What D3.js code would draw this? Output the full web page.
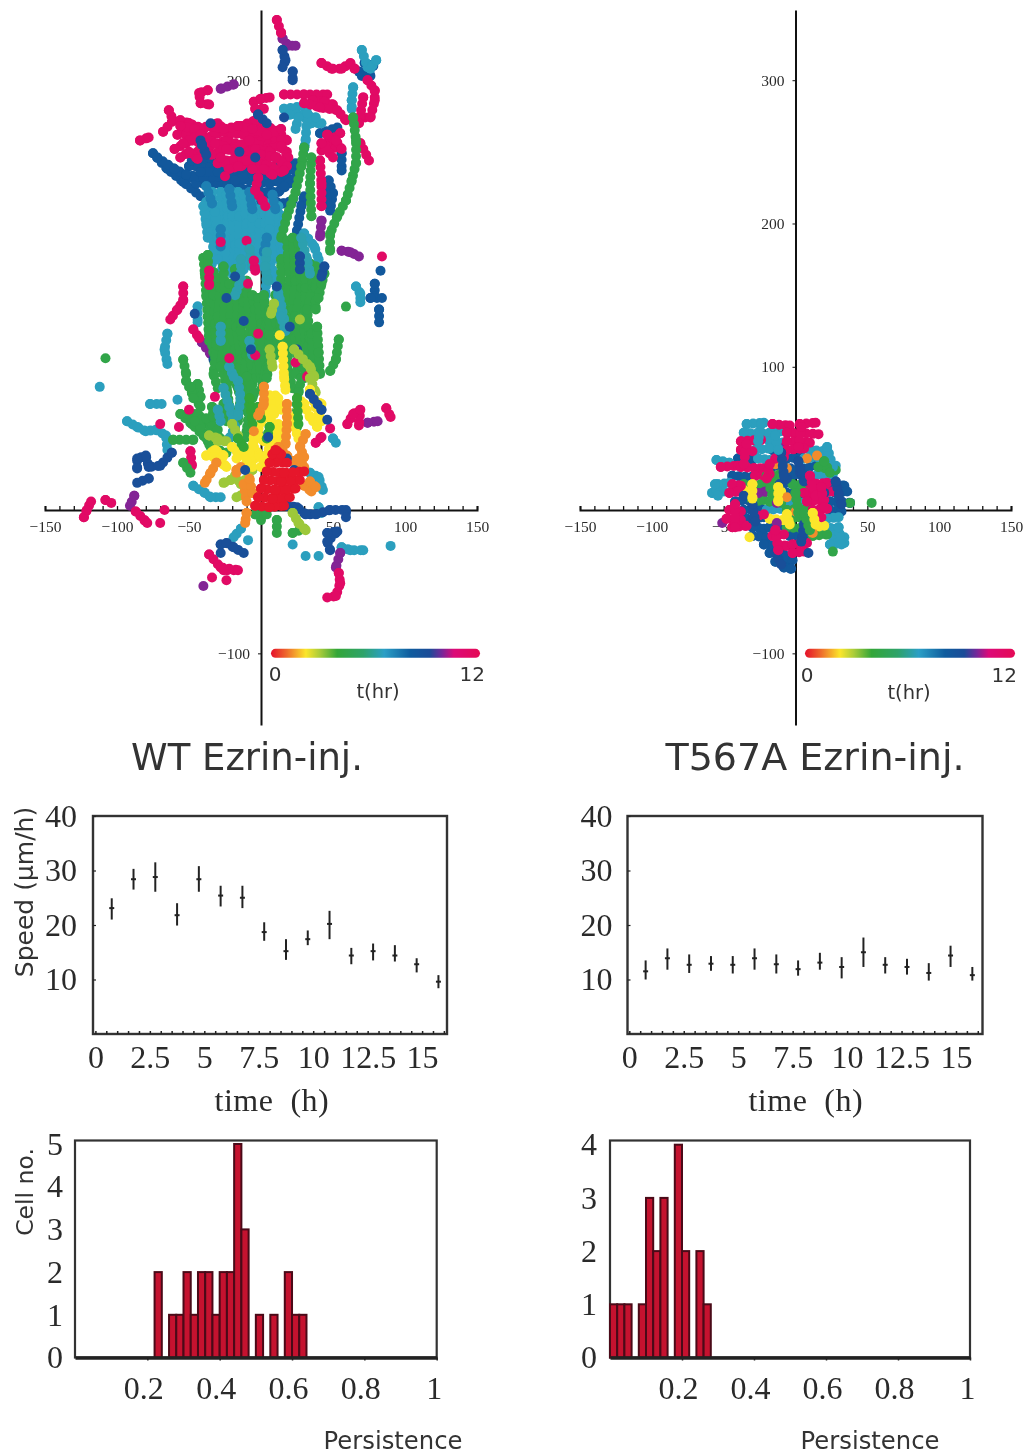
<!DOCTYPE html>
<html>
<head>
<meta charset="utf-8">
<title>Ezrin-injected cell migration</title>
<script src="https://d3js.org/d3.v7.min.js"></script>
<style>
    body { margin: 0; background: #fff; }
    svg { display: block; filter: blur(0.5px); }
    .serif { font-family: "Liberation Serif", serif; fill: #2a2a2a; }
    .sans { font-family: "DejaVu Sans", sans-serif; fill: #333; }
</style>
</head>
<body>
<div id="container"></div>
<script>
// Migration tracks: [x, y, x, y, ...] in microns, one list per track piece
const wtBlueBack = [
    [-75,249, -65,238, -54,229, -42,219],
    [-72,246, -60,238, -48,232],
    [-50,240, -35,240, -20,235, -5,240, 10,232, 22,238],
    [-45,228, -30,228, -15,225, 0,222, 12,222, 20,228],
    [-52,234, -40,232, -25,233, -8,230, 6,228, 18,232],
    [-48,244, -36,246, -24,242, -12,244, 0,240, 12,240, 24,242],
    [-42,236, -30,236, -18,230, -6,234, 6,234, 16,226, 24,232],
    [-14,222, -6,216, 6,216, 16,214, 22,216],
    [25,195, 28,212, 30,219],
    [47,230, 50,221, 48,209],
    [44,226, 46,214],
    [56,249, 56,237],
    [41,263, 53,267],
    [79,158, 79,149], [76,148, 84,148], [82,140, 82,131], [83,167],
    [74,307, 70,303, 78,310, 72,312, 76,303, 68,306]
]
const wtCyan = [
    [-38,215, -36,200, -33,188, -34,172],
    [-40,212, -38,200, -37,190],
    [-28,222, -27,205, -26,190, -27,168],
    [-24,220, -23,205, -24,188, -24,170],
    [-20,222, -20,205, -18,185, -20,165],
    [-16,222, -15,205, -15,186, -16,168],
    [-12,220, -10,200, -10,188, -12,168],
    [-3,210, -3,195, 0,180, 4,165, 3,150],
    [8,208, 9,190, 6,175, 10,160, 16,133],
    [12,212, 12,195, 12,175],
    [16,205, 14,190, 18,170],
    [-34,222, -32,208, -30,195, -30,175],
    [-6,218, -6,204, -6,190, -6,170],
    [-1,200, -1,185, -1,170],
    [2,215, 3,200, 3,180], [6,214, 6,196, 8,178],
    [16,280, 30,282, 35,270, 42,270],
    [20,276, 30,276, 38,274],
    [32,277, 31,258, 30,252],
    [26,274, 24,266],
    [30,193, 37,184, 40,175],
    [70,321, 74,309], [80,314, 76,308],
    [64,295, 63,286, 63,280],
    [66,156, 69,151, 69,145],
    [-44,142, -44,131],
    [-65,123, -67,112, -65,102],
    [-77,74, -69,74], [-58,77], [-112,86],
    [-47,17, -39,12, -35,9, -28,9],
    [34,26, 40,23, 43,14],
    [50,50, 52,47],
    [40,2, 42,-2],
    [-14,-13, -19,-19], [-9,-21],
    [22,-24], [31,-32], [40,-32],
    [56,-26, 62,-28, 71,-28], [90,-25],
    [-93,62, -86,58, -80,55, -73,56, -66,52, -65,42]
]
const wtMidBlue = [
    [-38,226, -34,214], [-22,224, -20,212], [-8,222, -6,210], [8,220, 10,210], [-28,196, -28,184], [4,190, 2,180]
]
const wtPurple = [
    [15,329, 19,324, 24,324],
    [-19,297, -28,294],
    [42,202, 41,191],
    [56,181, 62,180, 68,177],
    [-41,117, -35,109],
    [74,61, 81,62],
    [55,-30, 52,-40],
    [-88,10, -91,3],
    [-40,-53]
]
const wtPink = [
    [11,342, 14,333],
    [42,312, 49,308, 56,308, 62,312, 65,308],
    [74,300, 79,293, 79,286, 76,274, 69,274],
    [71,288, 68,270],
    [16,290, 30,290, 46,290],
    [36,286, 44,285, 50,283],
    [30,284, 41,281, 53,279, 59,272],
    [-37,293, -43,291, -42,284, -36,283],
    [-5,285, 0,287, 6,288],
    [-4,280, 2,280],
    [-84,258, -78,260],
    [-64,279, -61,272, -68,264],
    [-56,272, -50,270],
    [-58,262, -50,270, -40,266, -30,270, -22,262, -14,268, -4,272, 4,268, 12,264, 18,258],
    [-60,252, -48,258, -36,254, -24,258, -12,254, 0,260, 10,256, 18,250],
    [-52,262, -38,260, -26,264, -12,262, 2,264, 14,258],
    [-56,268, -46,266, -36,268, -26,266, -16,268, -6,266, 4,262, 14,266],
    [-54,256, -42,262, -32,256, -20,252, -8,258, 4,252, 14,254, 19,246],
    [-44,250, -34,248, -24,252, -14,248, -4,252, 6,250, 14,244],
    [-30,242, -24,244, -14,240, -6,244, 4,242, 14,236],
    [-56,246, -50,250, -44,245],
    [-20,244, -10,244, 0,248, 10,246, 18,240],
    [-28,246, -22,238, -16,240],
    [-2,232, -4,223, 1,216, 3,212],
    [-6,238, 2,238, 8,234],
    [16,237], [-25,233],
    [41,244, 42,228, 42,212],
    [55,263, 46,256, 42,251, 52,253],
    [46,262, 52,258, 56,252], [42,256, 50,246],
    [69,256, 75,244],
    [-10,188], [-28,187], [84,177],
    [-54,156, -54,146, -58,140, -63,133],
    [-47,126, -43,120],
    [-49,41, -48,31],
    [-87,-1, -81,-7, -79,-9], [-70,-9], [-67,0],
    [-123,-5, -121,0, -118,6], [-108,7, -104,5],
    [60,60, 64,67, 69,70, 68,59], [87,71, 90,65],
    [38,47, 42,51], [48,57],
    [54,-44, 55,-51, 52,-60, 46,-61],
    [-36,-31, -28,-40, -16,-42, -26,-42], [-34,-47], [-24,-49],
    [-70,60], [-57,58]
]
const wtBlueFront = [
    [15,321, 17,314, 15,309], [22,306, 22,300],
    [-35,270], [-42,258], [-2,276, 4,270], [16,274],
    [-41,255, -38,248], [-15,250], [-4,246],
    [-46,137], [-33,105],
    [-62,40, -70,31, -78,30, -80,38, -86,36, -86,29],
    [-78,22, -86,19],
    [18,3, 25,2, 31,-3, 38,-3, 48,0, 59,0, 59,-5],
    [46,-16, 53,-15, 46,-22, 48,-28],
    [-28,-24, -24,-23, -19,-26, -12,-30], [-28,-30]
]
const wtGreen = [
    [30,253, 28,240, 24,222, 18,205, 14,190],
    [35,246, 34,228, 35,205],
    [64,274, 66,258, 66,242, 63,230, 59,216, 53,205, 48,193, 48,181],
    [-40,176, -39,165, -38,150, -37,135, -36,118],
    [-37,178, -36,160, -35,140, -36,125, -33,110, -30,100],
    [-33,166, -33,150, -32,130, -31,115, -33,95, -30,85],
    [-30,162, -28,155, -30,135, -26,118, -28,100, -24,88, -22,72],
    [-26,170, -25,148, -26,128, -22,105, -24,80, -20,66],
    [-22,158, -20,150, -22,130, -18,112, -20,95, -14,80, -16,62],
    [-18,168, -16,150, -17,128, -14,105, -16,85, -12,70],
    [-14,152, -12,145, -14,125, -10,108, -12,90, -8,72, -10,55],
    [-10,160, -8,132, -8,112, -6,95, -6,78],
    [-6,150, -4,140, -6,120, -2,105, -4,92],
    [-2,148, 0,130, -2,112, 0,92],
    [2,150, 4,130, 0,118, 4,100, 0,84],
    [6,140, 6,122, 6,105, 4,92],
    [10,150, 12,145, 8,140, 12,125, 10,108],
    [14,175, 14,150, 13,135, 14,118],
    [18,188, 20,160, 16,140, 20,120, 18,100, 22,85],
    [22,190, 24,160, 22,140, 24,120, 26,100],
    [26,186, 28,155, 24,135, 28,115, 24,95],
    [30,175, 31,155, 30,130, 31,112, 30,92],
    [34,172, 36,155, 32,140, 34,120, 30,105],
    [38,170, 38,155], [38,146, 38,140], [35,123, 37,100, 34,93],
    [39,128, 40,110, 41,95],
    [44,165, 42,158, 40,148],
    [54,119, 52,105, 48,97],
    [-108,106], [59,142],
    [-54,105, -52,95], [-52,90, -48,82, -42,72],
    [-44,88, -42,79], [-49,86, -47,78],
    [-56,67, -48,60, -40,52, -34,44],
    [-51,67, -44,67, -35,58, -28,50],
    [-42,58, -35,44, -24,40],
    [-46,62, -38,64, -30,56],
    [-34,72, -33,65], [-26,74, -24,62],
    [-61,49, -47,49],
    [-10,93, -5,81, -10,74, -7,60, -10,51],
    [25,74, 25,58], [28,92, 26,82],
    [-54,33, -49,26],
    [0,-7], [-4,-3, 4,-3],
    [11,-7, 11,-16], [22,-16, 30,-13]
]
const wtCyanFront = [
    [-26,85, -22,72, -18,58, -22,50], [-16,90, -14,78, -16,66], [-30,70, -28,62],
    [4,180, 3,170, 5,160], [11,156, 14,143, 16,133], [-22,100, -19,93],
    [-14,175, -14,160, -18,150], [12,150, 14,135, 17,125], [28,190, 32,175, 34,165], [-8,182, -6,170],
    [-28,128, -28,118], [-8,118, -6,108]
]
const wtPinkFront = [
    [-36,167, -36,157], [-5,174, -4,167], [-9,158],
    [-2,123], [-22,106], [-4,108], [24,103], [33,94], [32,93], [-32,79], [-50,70]
]
const wtBlueMid = [
    [-18,163], [27,177, 27,168], [11,156], [-7,112], [25,112], [44,170, 42,163], [-12,132], [20,128], [-24,148]
]
const wtLime = [
    [9,144, 7,137], [27,133],
    [23,112, 34,100, 37,93], [34,92, 38,82],
    [6,112, 8,100], [-21,21, -26,19], [-10,12, -17,9],
    [22,-2, 26,-9, 31,-14],
    [-6,28, -12,20], [-36,52, -30,50], [-18,24, -14,18], [-30,48, -24,48], [-20,60, -16,52]
]
const wtYellow = [
    [15,114, 16,93, 17,84],
    [13,122],
    [30,74, 34,65, 39,58, 42,74, 37,77],
    [34,84, 38,72, 42,62],
    [4,65, 11,58, 6,49],
    [9,67, 12,78],
    [-5,44, 0,37, -7,35, -5,51],
    [-8,40, -2,56, 4,70], [0,30, 6,44, 12,60], [4,76, 10,80, 14,70],
    [-14,42, -10,34, -6,30], [10,50, 16,56, 20,64], [24,66, 28,76],
    [-38,38, -32,42, -26,38], [-20,44, -16,40],
    [-28,35, -24,30, -33,37], [-17,36],
    [22,62, 26,50], [6,80, 8,70], [14,48, 10,44],
    [-2,52, 2,48]
]
const wtGreenFront = [
    [25,78, 26,60], [-8,78, -6,60], [-16,50, -12,44], [6,58, 4,50], [-2,72, 0,64]
]
const wtOrange = [
    [-10,-2, -11,-9], [-17,28, -14,30, -17,26],
    [2,86, 2,74, -2,66],
    [18,74, 18,60, 17,46],
    [31,53, 27,44, 30,37, 25,33],
    [-31,33, -35,26, -39,19],
    [30,17, 35,13], [34,20, 38,16],
    [-5,55], [-12,18, -10,6], [-6,12, -8,22],
    [12,44, 18,38, 22,34], [26,36, 30,30]
]
const wtBlueSmall = [
    [5,51], [-11,28], [23,28], [18,36], [34,81, 42,70], [46,63]
]
const wtRed = [
    [-4,3, 6,2, 16,3],
    [-2,9, 8,8, 20,9],
    [0,15, 10,14, 24,15],
    [2,21, 14,20, 27,21],
    [4,27, 16,26, 30,27],
    [6,33, 18,33],
    [8,39, 14,39, 10,42]
]

const mutBlue = [
    [-16,42, -8,43], [-40,36, -30,35], [-6,36, 4,37], [-20,30, -10,31], [-8,30, 2,28, 14,31],
    [-44,24, -30,23], [-6,24, 8,25], [-12,18, -4,19], [24,18, 34,17], [-6,12, 4,11], [28,12, 36,13],
    [-42,6, -32,7], [24,6, 38,5], [-36,0, -24,1], [24,0, 32,-1], [-34,-6, -22,-5], [-30,-12, -22,-13],
    [-18,-12, -8,-11], [-30,-18, -20,-19], [-4,-18, 10,-17], [-22,-24, -14,-25], [-18,-30, -8,-31],
    [-14,-36, -2,-35], [-8,-40, -3,-41]
]
const mutCyan = [
    [-34,60, -22,61], [-36,54, -22,53], [-18,54, -10,55], [-18,48, -8,47], [-28,42, -18,43],
    [10,42, 22,41], [-26,36, -18,35], [6,36, 16,37, 24,35], [10,24, 26,25], [-54,18, -46,19],
    [-58,12, -50,13], [-55,35, -46,33], [-8,6, 4,5], [-20,0, -10,1], [22,-6, 30,-5], [20,-12, 28,-13],
    [26,-18, 34,-19], [24,-24, 34,-23], [22,30, 28,31]
]
const mutGreen = [
    [-16,24, -10,25], [-36,18, -26,17], [-24,18, -14,19], [-2,18, 8,17], [-30,6, -22,7], [-18,6, -10,5],
    [-6,0, 10,1], [-6,-6, 6,-5], [-6,-12, 10,-13], [12,-18, 22,-17], [16,30, 28,28],
    [26,-29], [38,5], [53,5]
]
const mutYellow = [
    [-36,14, -28,12], [-16,12, -10,13], [-18,-6, -8,-7], [8,-6, 14,-5], [12,-12, 20,-11], [-32,-19]
]
const mutOrange = [
    [8,36], [15,38], [-6,29], [-6,9], [0,-1], [-14,32], [12,-16]
]
const mutPurple = [
    [-26,12, -20,13], [-13,5], [-13,-9], [-51,-9], [-8,44], [10,10]
]
const mutPink = [
    [-16,60, -4,59], [3,60, 14,61], [-6,54, 16,53], [-38,48, -24,49], [-6,48, 10,47], [-38,42, -30,41],
    [-6,42, 6,43], [-14,36, -8,37], [-52,30, -40,31], [-38,30, -22,29], [-28,24, -18,25], [-44,18, -38,17],
    [10,18, 22,19], [-46,12, -40,13], [6,12, 16,11], [18,12, 26,13], [8,6, 20,7], [-46,0, -38,-1],
    [12,0, 22,1], [-48,-6, -38,-7], [14,-6, 18,-5], [-44,-12, -34,-11], [-16,-18, -8,-17], [-12,-24, -6,-25],
    [-2,-24, 8,-23], [-2,-30, 6,-29], [-26,-4, -22,-3]
]
const mutBlueFront = [
    [9,-30], [-11,18, -6,22], [3,26], [-30,-6], [-36,10], [20,12],
    [-10,40, -8,24], [2,34, 6,20], [28,20, 32,4], [-30,4, -28,-8], [-14,-30, -10,-38], [6,-10, 4,-22]
]
const mutCyanFront = [
    [-24,60, -26,48], [-14,52, -12,42], [22,44, 26,30], [30,-12, 32,-24], [-56,18, -54,10]
]
const mutGreenFront = [
    [-20,24, -16,10], [0,12, 2,-2], [6,-2, 10,-14], [20,34, 24,26]
]
const mutYellowFront = [
    [-30,18, -30,8], [-12,16, -12,6], [-6,-3, -4,-10], [12,-2, 14,-10]
]
const mutPinkFront = [
    [-34,46, -36,32], [10,24, 14,10], [18,16, 20,2], [-42,4, -42,-12], [-14,-14, -12,-28], [4,58, 2,44], [-18,32, -20,22]
]

// [hour, tracks]; later entries are drawn on top
const wtLayers = [[8.3, wtBlueBack], [6.4, wtCyan], [7.2, wtMidBlue], [9.9, wtPurple], [11.3, wtPink], [8.9, wtBlueFront],
    [4.3, wtGreen], [6.2, wtCyanFront], [11.3, wtPinkFront], [8.9, wtBlueMid], [2.9, wtLime], [2.0, wtYellow],
    [3.8, wtGreenFront], [1.2, wtOrange], [8.9, wtBlueSmall], [0.05, wtRed]]
const mutLayers = [[8.3, mutBlue], [6.4, mutCyan], [4.3, mutGreen], [2.0, mutYellow], [1.2, mutOrange],
    [9.9, mutPurple], [11.3, mutPink], [8.9, mutBlueFront], [6.4, mutCyanFront], [4.3, mutGreenFront],
    [2.0, mutYellowFront], [11.3, mutPinkFront]]

const legendHours = [0, 0.9, 2, 2.8, 3.8, 5.3, 6.5, 8, 9.1, 9.8, 10.5, 12]
const legendColors = ["#e5112b", "#ee6a2c", "#fbe62b", "#a9cc3a", "#33a638", "#2ea36a", "#2b9fc6", "#0f5c9e", "#1b4c98", "#74289a", "#dc0a78", "#e50a55"]

const xTicksMajor = [-150, -100, -50, 50, 100, 150]
const yTicksMajor = [-100, 100, 200, 300]

// Speed against time: hour, mean, low and high end of the error bar
const hours = [0.75, 1.75, 2.75, 3.75, 4.75, 5.75, 6.75, 7.75, 8.75, 9.75, 10.75, 11.75, 12.75, 13.75, 14.75, 15.75]
const wtSpeed = [23.1, 28.4, 28.8, 21.8, 28.4, 25.4, 25.0, 18.7, 15.2, 17.4, 20.2, 14.4, 15.2, 14.4, 12.8, 9.6]
const wtLow = [21.0, 26.5, 26.1, 19.9, 26.1, 23.4, 23.1, 17.1, 13.6, 16.3, 17.4, 12.8, 13.5, 13.3, 11.3, 8.4]
const wtHigh = [24.9, 30.3, 31.5, 24.0, 30.8, 27.2, 27.2, 20.5, 17.4, 19.0, 22.6, 15.8, 16.6, 16.3, 13.9, 10.8]
const mutSpeed = [11.5, 13.9, 12.7, 12.9, 12.7, 13.9, 12.8, 11.9, 13.1, 12.3, 15.0, 12.7, 12.3, 11.2, 14.4, 10.8]
const mutLow = [10.0, 11.8, 11.2, 11.6, 11.1, 11.8, 11.1, 10.7, 11.8, 10.2, 12.3, 11.1, 10.9, 9.8, 12.3, 9.8]
const mutHigh = [13.5, 15.7, 14.6, 14.3, 14.3, 15.7, 14.6, 13.5, 14.9, 14.1, 17.7, 14.1, 13.8, 13.0, 16.2, 12.3]
const timeTicks = [0, 2.5, 5, 7.5, 10, 12.5, 15]
const timeMinor = d3.range(0, 16.5, 0.5)
const speedTicks = [10, 20, 30, 40]

// Persistence histograms: left edge of each 0.02 wide bin and its cell count
const wtBins = [0.22, 0.26, 0.28, 0.30, 0.32, 0.34, 0.36, 0.38, 0.40, 0.42, 0.44, 0.46, 0.50, 0.54, 0.58, 0.60, 0.62]
const wtCounts = [2, 1, 1, 2, 1, 2, 2, 1, 2, 2, 5, 3, 1, 1, 2, 1, 1]
const mutBins = [0, 0.02, 0.04, 0.08, 0.10, 0.12, 0.14, 0.18, 0.20, 0.24, 0.26]
const mutCounts = [1, 1, 1, 1, 3, 2, 3, 4, 2, 2, 1]
const persistTicks = [0.2, 0.4, 0.6, 0.8, 1]

const w = 1025
const h = 1454
const svg = d3.select("#container").append("svg").attr("width", w).attr("height", h)

const hourColor = d3.scaleLinear().domain(legendHours).range(legendColors)

const defs = svg.append("defs")
const grad = defs.append("linearGradient").attr("id", "hourGradient")
legendHours.forEach((t, i) => {
    grad.append("stop").attr("offset", (t / 12 * 100) + "%").attr("stop-color", legendColors[i])
})

function drawMap(xLeft, xRight, layers, legend, title) {
    const x = d3.scaleLinear().domain([-150, 150]).range([xLeft, xRight])
    const y = d3.scaleLinear().domain([-150, 349]).range([725, 10])
    const g = svg.append("g")

    // x axis, minor ticks point up
    const xMinor = g.append("g").attr("transform", `translate(0,${y(0)})`)
        .call(d3.axisBottom(x).tickValues(d3.range(-150, 151, 10)).tickSize(-4).tickFormat(""))
    xMinor.select(".domain").attr("stroke", "#111").attr("stroke-width", 2)
    xMinor.selectAll("line").attr("stroke", "#111").attr("stroke-width", 1.3)
    const xMajor = g.append("g").attr("transform", `translate(0,${y(0)})`)
        .call(d3.axisBottom(x).tickValues(xTicksMajor).tickSize(0).tickPadding(11))
    xMajor.select(".domain").remove()
    xMajor.selectAll("text").attr("class", "serif").style("font-size", "15.5px")

    const yAxis = g.append("g").attr("transform", `translate(${x(0)},0)`)
        .call(d3.axisLeft(y).tickValues(yTicksMajor).tickSize(3).tickPadding(8).tickSizeOuter(0))
    yAxis.select(".domain").attr("stroke", "#111").attr("stroke-width", 2)
    yAxis.selectAll("line").attr("stroke", "#111")
    yAxis.selectAll("text").attr("class", "serif").style("font-size", "15.5px")

    // tracks on top of the axes, dotted round strokes so they read as strings of dots
    const line = d3.line().x(d => x(d[0])).y(d => y(d[1]))
    layers.forEach(([hour, tracks]) => {
        const colour = hourColor(hour)
        tracks.forEach(flat => {
            const pts = d3.range(0, flat.length, 2).map(i => [flat[i], flat[i + 1]])
            if (pts.length > 1) {
                g.append("path").attr("d", line(pts)).attr("fill", "none").attr("stroke", colour)
                    .attr("stroke-width", 10).attr("stroke-linecap", "round").attr("stroke-dasharray", "0 6.5")
            }
            g.selectAll(null).data(pts).enter().append("circle")
                .attr("cx", d => x(d[0])).attr("cy", d => y(d[1])).attr("r", 5).attr("fill", colour)
        })
    })

    // colour key
    const key = d3.scaleLinear().domain([0, 12]).range(legend.range)
    g.append("rect").attr("x", key(0)).attr("y", y(-100) - 4.5).attr("width", key(12) - key(0)).attr("height", 9)
        .attr("rx", 4.5).attr("fill", "url(#hourGradient)")
    g.append("text").attr("class", "sans").attr("x", legend.zero).attr("y", legend.base).attr("text-anchor", "middle")
        .style("font-size", "20px").text("0")
    g.append("text").attr("class", "sans").attr("x", legend.twelve).attr("y", legend.base).attr("text-anchor", "end")
        .style("font-size", "20px").text("12")
    g.append("text").attr("class", "sans").attr("x", legend.unit).attr("y", legend.base + 17).attr("text-anchor", "middle")
        .style("font-size", "19.5px").text("t(hr)")

    g.append("text").attr("class", "sans").attr("x", title.x).attr("y", 770).attr("text-anchor", "middle")
        .style("font-size", title.size + "px").text(title.text)
}

function drawSpeed(left, right, zeroX, mean, low, high, labelGap) {
    const x = d3.scaleLinear().domain([0, 16]).range([zeroX, zeroX + 16 * 21.78])
    const y = d3.scaleLinear().domain([0, 40]).range([1034, 816])
    const g = svg.append("g")

    g.append("rect").attr("x", left).attr("y", y(40)).attr("width", right - left).attr("height", y(0) - y(40))
        .attr("fill", "none").attr("stroke", "#333").attr("stroke-width", 2.4)

    const minor = g.append("g").attr("transform", `translate(0,${y(0)})`)
        .call(d3.axisBottom(x).tickValues(timeMinor).tickSize(-3).tickFormat("").tickSizeOuter(0))
    minor.select(".domain").remove()
    minor.selectAll("line").attr("stroke", "#222").attr("stroke-width", 1.5)

    const xAxis = g.append("g").attr("transform", `translate(0,${y(0)})`)
        .call(d3.axisBottom(x).tickValues(timeTicks).tickSize(0).tickPadding(11).tickFormat(d => d))
    xAxis.select(".domain").remove()
    xAxis.selectAll("text").attr("class", "serif").style("font-size", "32px")

    const yAxis = g.append("g").attr("transform", `translate(${left},0)`)
        .call(d3.axisLeft(y).tickValues(speedTicks).tickSize(-3).tickPadding(labelGap))
    yAxis.select(".domain").remove()
    yAxis.selectAll("line").attr("stroke", "#222").attr("stroke-width", 1.2)
    yAxis.selectAll("text").attr("class", "serif").style("font-size", "32px")

    const marks = g.selectAll(null).data(hours).enter().append("g")
    marks.append("line").attr("x1", d => x(d)).attr("x2", d => x(d))
        .attr("y1", (d, i) => y(low[i])).attr("y2", (d, i) => y(high[i]))
        .attr("stroke", "#222").attr("stroke-width", 2)
    marks.append("line").attr("x1", d => x(d) - 2.5).attr("x2", d => x(d) + 2.5)
        .attr("y1", (d, i) => y(mean[i])).attr("y2", (d, i) => y(mean[i]))
        .attr("stroke", "#222").attr("stroke-width", 2)

    g.append("text").attr("class", "serif").attr("x", x(0) + 176.5).attr("y", 1111).attr("text-anchor", "middle")
        .style("font-size", "32px").style("letter-spacing", "0.5px").style("white-space", "pre").text("time  (h)")
}

function drawHist(left, right, yTop, bins, counts, maxCount, labelGap, persistX) {
    const x = d3.scaleLinear().domain([0, 1]).range([left, right])
    const y = d3.scaleLinear().domain([0, maxCount]).range([1357.5, yTop])
    const g = svg.append("g")

    g.append("rect").attr("x", left).attr("y", 1140.5).attr("width", right - left).attr("height", 1357.5 - 1140.5)
        .attr("fill", "none").attr("stroke", "#333").attr("stroke-width", 2.2)

    g.selectAll(null).data(bins).enter().append("rect")
        .attr("x", d => x(d)).attr("width", d => x(d + 0.02) - x(d))
        .attr("y", (d, i) => y(counts[i])).attr("height", (d, i) => y(0) - y(counts[i]))
        .attr("fill", "#c5122f").attr("stroke", "#4a0a18").attr("stroke-width", 2)

    const xAxis = g.append("g").attr("transform", `translate(0,${y(0)})`)
        .call(d3.axisBottom(x).tickValues(persistTicks).tickSize(3).tickPadding(16).tickSizeOuter(0).tickFormat(d => d))
    xAxis.select(".domain").attr("stroke", "#222").attr("stroke-width", 3.5)
    xAxis.selectAll("line").attr("stroke", "#222").attr("stroke-width", 1.5)
    xAxis.selectAll("text").attr("class", "serif").style("font-size", "32px")
        .attr("dx", d => d === 1 ? -3 : -4)

    const yAxis = g.append("g").attr("transform", `translate(${left},0)`)
        .call(d3.axisLeft(y).tickValues(d3.range(0, maxCount + 1)).tickSize(0).tickPadding(labelGap).tickFormat(d3.format("d")))
    yAxis.select(".domain").remove()
    yAxis.selectAll("text").attr("class", "serif").style("font-size", "32px")

    g.append("text").attr("class", "sans").attr("x", persistX).attr("y", 1449).attr("text-anchor", "middle")
        .style("font-size", "24.3px").text("Persistence")
}

drawMap(45, 477, wtLayers, { range: [271, 480], zero: 275, twelve: 485, unit: 378, base: 681 }, { x: 247, size: 37, text: "WT Ezrin-inj." })
drawMap(580, 1011, mutLayers, { range: [805, 1015], zero: 807, twelve: 1017, unit: 909, base: 682 }, { x: 815, size: 38, text: "T567A Ezrin-inj." })

drawSpeed(93, 447, 95.4, wtSpeed, wtLow, wtHigh, 16)
drawSpeed(627.5, 982.5, 629.3, mutSpeed, mutLow, mutHigh, 15)

drawHist(75, 436.7, 1144, wtBins, wtCounts, 5, 12, 393)
drawHist(610, 970, 1144.7, mutBins, mutCounts, 4, 13, 870)

svg.append("text").attr("class", "sans").attr("transform", "translate(33,892) rotate(-90)")
    .attr("text-anchor", "middle").style("font-size", "25px").text("Speed (µm/h)")
svg.append("text").attr("class", "sans").attr("transform", "translate(33,1192) rotate(-90)")
    .attr("text-anchor", "middle").style("font-size", "23.5px").text("Cell no.")
</script>
</body>
</html>
